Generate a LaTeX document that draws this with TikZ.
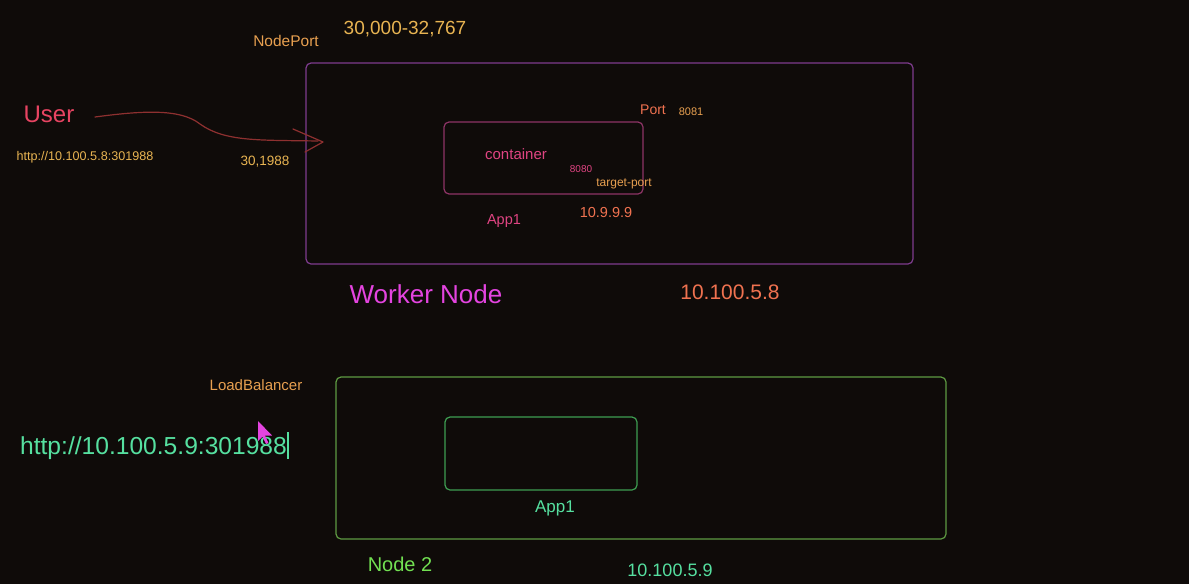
\documentclass[tikz,border=0pt]{standalone}
\usepackage{fontspec}
\setmainfont{Liberation Sans}
\begin{document}
\begin{tikzpicture}[x=1pt,y=-1pt,
  every node/.style={inner sep=0pt,outer sep=0pt,anchor=center},
  fs/.style={font=\fontsize{#1}{#1}\selectfont},
  frame/.style={draw=#1,line width=1.2pt,rounded corners=5pt}]
\definecolor{bg}{HTML}{0F0B09}
\definecolor{wpurple}{HTML}{7E3C8E}
\definecolor{cpink}{HTML}{8E3466}
\definecolor{lbgreen}{HTML}{5E9A42}
\definecolor{appgreen}{HTML}{3E9E52}
\definecolor{orangeT}{HTML}{E8A050}
\definecolor{yellowT}{HTML}{E8B452}
\definecolor{redT}{HTML}{E84462}
\definecolor{pinkT}{HTML}{E04482}
\definecolor{coral}{HTML}{F07250}
\definecolor{magentaT}{HTML}{E444E0}
\definecolor{mint}{HTML}{56E0A0}
\definecolor{lime}{HTML}{72E052}
\definecolor{arrowred}{HTML}{8E3030}

\fill[bg] (0,0) rectangle (1189,584);
\useasboundingbox (0,0) rectangle (1189,584);

% upper worker node
\node[frame=wpurple,minimum width=607pt,minimum height=201pt] (worker) at (609.5,163.5) {};
\node[frame=cpink,minimum width=199pt,minimum height=72pt] (container) at (543.5,158) {};

\node[fs=15.5,text=orangeT] (nodeport) at (286,41) {NodePort};
\node[fs=19,text=yellowT] (range) at (405,29) {30,000-32,767};
\node[fs=24,text=redT] (user) at (49,114) {User};
\node[fs=12.6,text=yellowT] (url1) at (85,157) {http://10.100.5.8:301988};
\node[fs=13.5,text=yellowT] (np) at (265,162) {30,1988};
\node[fs=14,text=coral] (port) at (653,110) {Port};
\node[fs=11,text=orangeT] (p8081) at (691,112) {8081};
\node[fs=15,text=pinkT] (cont) at (516,154) {container};
\node[fs=10,text=pinkT] (p8080) at (581,169) {8080};
\node[fs=12,text=orangeT] (tport) at (624,184) {target-port};
\node[fs=14.5,text=pinkT] (app1a) at (504,221) {App1};
\node[fs=14.5,text=coral] (ipc) at (606,213) {10.9.9.9};
\node[fs=26,text=magentaT] (wn) at (426,294) {Worker Node};
\node[fs=21,text=coral] (ipw) at (730,292) {10.100.5.8};

% hand-drawn request arrow
\coordinate (a0) at (95,117);
\coordinate (a1) at (318,141);
\draw[arrowred,line width=1.2pt,line cap=round]
  (a0) .. controls (140,111) and (180,108) .. (200,124)
       .. controls (225,142) and (260,140) .. (a1);
\draw[arrowred,line width=1.2pt,line cap=round,line join=round]
  (293,129) -- (323,142) -- (305,152);

% lower load balancer node
\node[frame=lbgreen,minimum width=610pt,minimum height=162pt] (lb) at (641,458) {};
\node[frame=appgreen,minimum width=192pt,minimum height=73pt] (app) at (541,453.5) {};

\node[fs=15,text=orangeT] (lbl) at (256,385) {LoadBalancer};
\node[fs=24.6,text=mint] (url2) at (153.5,448) {http://10.100.5.9:301988};
\draw[mint,line width=1.3pt] (288,432) -- (288,459);
\node[fs=17,text=mint] (app1b) at (555,508) {App1};
\node[fs=20,text=lime] (n2) at (400,564) {Node 2};
\node[fs=18,text=mint] (ipn) at (670,570) {10.100.5.9};

% mouse pointer
\fill[magentaT] (258,421) -- (258,441) -- (262.5,436.5) -- (266,444) -- (268.5,443) -- (265,435.5) -- (272,435.5) -- cycle;
\end{tikzpicture}
\end{document}
